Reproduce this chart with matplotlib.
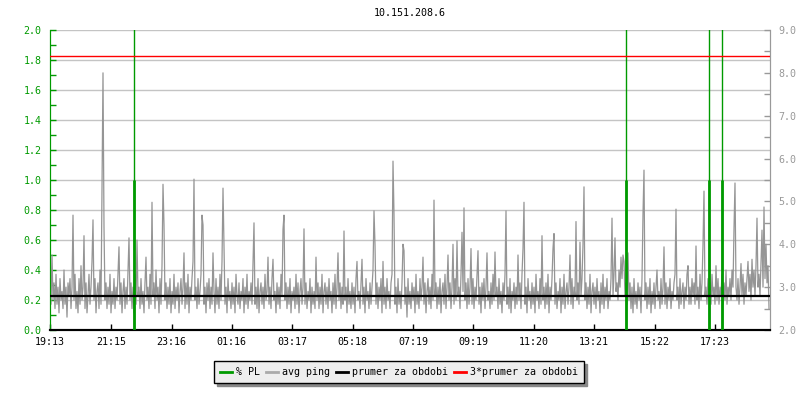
import numpy as np
import matplotlib
matplotlib.use("Agg")
import matplotlib.pyplot as plt
from matplotlib.lines import Line2D
from matplotlib.ticker import MultipleLocator, FormatStrFormatter

plt.rcParams['font.family'] = ['DejaVu Sans Mono']
plt.rcParams['font.size'] = 7.2

title = "10.151.208.6"
start = "19:13"
tick_labels = ["19:13", "21:15", "23:16", "01:16", "03:17", "05:18",
               "07:19", "09:19", "11:20", "13:21", "15:22", "17:23"]

# avg ping [ms], one sample every 2 minutes from 19:13
step_min = 2
avg_ping = [
    2.9, 2.6, 3.75, 2.7, 3.1, 2.5, 3.3, 2.6, 3.0, 2.4, 3.2, 2.7, 2.9, 2.5, 3.4, 2.6, 3.0, 2.3, 3.1, 2.8,
    3.2, 2.5, 3.0, 4.68, 2.7, 3.3, 2.5, 2.9, 2.4, 3.2, 2.6, 3.5, 2.7, 3.0, 4.2, 2.5, 3.1, 2.4, 2.8, 3.3,
    2.6, 3.0, 3.6, 4.57, 2.7, 3.2, 2.4, 2.9, 3.1, 2.5, 3.4, 2.6, 5.34, 8.0, 4.4, 2.7, 3.1, 2.5, 3.0, 2.6,
    3.3, 2.4, 2.9, 2.6, 3.2, 2.5, 3.0, 2.7, 3.3, 3.94, 2.6, 3.1, 2.4, 2.9, 3.2, 2.5, 3.0, 2.6, 3.4, 4.15,
    2.7, 3.1, 2.5, 3.0, 2.4, 3.3, 2.6, 4.1, 2.8, 3.0, 2.5, 3.2, 2.6, 2.9, 2.4, 3.1, 3.7, 2.7, 3.0, 2.5,
    3.3, 2.6, 4.98, 2.8, 3.1, 2.5, 3.4, 2.7, 3.0, 2.4, 3.2, 2.6, 3.5, 5.4, 4.45, 2.7, 3.1, 2.5, 3.0, 2.6,
    3.2, 2.4, 2.9, 2.6, 3.3, 2.5, 3.0, 2.7, 3.1, 2.4, 2.9, 3.2, 2.6, 3.0, 3.8, 2.5, 3.1, 2.6, 3.3, 2.4,
    3.0, 2.7, 3.2, 3.6, 5.52, 2.7, 3.0, 2.5, 3.2, 2.6, 2.9, 3.3, 4.68, 4.45, 2.6, 3.0, 2.4, 3.1, 2.7, 3.2,
    2.5, 3.0, 2.6, 3.8, 2.9, 2.4, 3.2, 2.6, 3.0, 2.5, 3.3, 2.7, 3.6, 5.31, 4.0, 2.6, 3.0, 2.4, 3.2, 2.7,
    2.9, 2.5, 3.1, 2.6, 3.0, 2.4, 3.3, 2.8, 2.6, 3.1, 2.5, 2.9, 2.7, 3.2, 2.4, 3.0, 2.6, 3.3, 2.5, 2.9,
    2.7, 3.1, 2.6, 3.6, 4.5, 2.6, 3.0, 2.5, 3.2, 2.4, 2.9, 3.1, 2.6, 3.0, 2.5, 3.3, 2.7, 2.9, 3.7, 2.6,
    3.0, 2.5, 3.2, 3.65, 2.7, 2.9, 2.4, 3.1, 2.6, 3.0, 2.5, 3.3, 2.8, 4.35, 4.68, 2.7, 3.1, 2.5, 3.0, 2.6,
    3.2, 2.4, 2.9, 2.7, 3.0, 2.5, 3.3, 2.6, 3.1, 2.4, 2.9, 3.2, 2.6, 3.0, 4.36, 2.6, 3.1, 2.5, 2.9, 2.7,
    3.2, 2.4, 3.0, 2.6, 2.9, 2.5, 3.7, 2.7, 3.1, 2.5, 3.0, 2.6, 3.3, 2.4, 2.9, 3.1, 2.6, 3.0, 2.5, 3.2,
    2.7, 2.9, 2.4, 3.1, 2.6, 3.3, 2.5, 3.0, 3.8, 2.7, 3.1, 2.5, 3.0, 2.6, 4.31, 2.7, 3.0, 2.4, 3.2, 2.6,
    2.9, 2.5, 3.1, 2.6, 3.0, 2.4, 3.2, 3.6, 2.7, 2.9, 2.5, 3.1, 3.65, 2.6, 3.0, 2.4, 3.2, 2.7, 2.9, 2.5,
    3.1, 2.6, 3.0, 3.4, 4.78, 4.0, 2.6, 3.1, 2.5, 3.0, 2.7, 3.2, 2.4, 3.6, 2.6, 3.0, 2.5, 3.2, 2.7, 2.9,
    2.5, 3.1, 3.3, 5.94, 4.7, 2.6, 3.0, 2.4, 3.2, 2.6, 2.9, 2.5, 3.1, 4.0, 3.85, 2.6, 3.0, 2.3, 3.2, 2.6,
    2.9, 2.5, 3.1, 2.7, 3.0, 2.4, 3.3, 2.6, 2.9, 2.5, 3.2, 2.7, 3.0, 3.7, 2.6, 3.1, 2.4, 2.9, 3.2, 2.6,
    3.0, 2.5, 3.3, 2.7, 5.03, 2.8, 3.1, 2.5, 3.0, 2.6, 3.2, 2.4, 2.9, 3.1, 2.6, 3.3, 2.5, 3.0, 3.75, 2.7,
    3.1, 2.5, 3.0, 4.0, 2.6, 3.2, 2.7, 4.08, 2.8, 3.0, 2.5, 3.3, 4.28, 2.9, 4.85, 2.7, 3.1, 2.5, 3.2, 2.6,
    3.0, 3.9, 2.6, 3.2, 2.5, 3.0, 2.7, 3.3, 3.85, 2.6, 3.0, 2.4, 3.1, 2.7, 3.2, 2.5, 3.0, 3.8, 2.7, 2.9,
    2.5, 3.1, 2.6, 3.3, 2.7, 3.82, 2.8, 3.0, 2.5, 3.2, 2.6, 2.9, 2.4, 3.1, 2.7, 3.3, 4.78, 2.6, 3.0, 2.5,
    3.2, 2.4, 2.9, 2.7, 3.1, 2.5, 3.0, 2.6, 3.75, 2.7, 3.1, 2.5, 3.3, 3.9, 4.98, 2.6, 3.0, 2.4, 3.2, 2.7,
    2.9, 2.5, 3.1, 2.6, 3.0, 2.4, 3.3, 2.7, 2.9, 2.5, 3.2, 2.6, 4.2, 2.7, 3.0, 2.5, 3.1, 2.6, 3.3, 2.4,
    3.0, 2.7, 3.2, 3.9, 4.25, 2.6, 3.1, 2.5, 2.9, 2.7, 3.2, 2.4, 3.0, 2.6, 3.3, 2.5, 2.9, 3.1, 2.6, 3.0,
    3.75, 2.6, 3.2, 2.5, 3.0, 2.8, 4.53, 2.7, 3.1, 2.6, 4.05, 2.8, 3.2, 4.0, 5.34, 2.7, 3.1, 2.5, 3.0, 2.6,
    3.3, 2.4, 2.9, 3.1, 2.6, 3.0, 2.5, 3.2, 2.7, 2.9, 2.4, 3.1, 2.6, 3.3, 2.5, 3.0, 2.7, 3.2, 2.5, 2.9,
    2.7, 3.2, 4.61, 2.8, 3.3, 4.15, 2.9, 3.1, 2.7, 3.4, 3.0, 3.7, 3.2, 3.75, 3.6, 2.8, 3.1, 2.6, 3.8, 2.7,
    3.1, 2.5, 3.0, 2.4, 3.2, 2.6, 2.9, 2.5, 3.1, 2.7, 3.0, 2.4, 3.2, 4.7, 5.73, 2.7, 3.1, 2.5, 3.0, 2.6,
    3.2, 2.4, 2.9, 2.6, 3.1, 2.5, 3.0, 3.4, 2.7, 2.9, 2.5, 3.2, 2.6, 3.0, 3.94, 2.6, 3.1, 2.5, 3.0, 2.7,
    3.2, 2.5, 2.9, 2.7, 3.1, 3.3, 4.82, 2.7, 3.0, 2.5, 3.2, 2.6, 2.9, 3.1, 2.5, 3.0, 2.7, 3.3, 3.5, 2.6,
    3.0, 2.6, 3.2, 2.8, 3.1, 2.6, 3.96, 2.7, 3.0, 2.5, 3.3, 2.7, 3.1, 4.0, 5.24, 2.8, 3.0, 2.6, 3.2, 2.7,
    3.1, 2.6, 3.3, 2.8, 3.0, 2.6, 3.5, 2.7, 3.2, 2.6, 3.0, 2.8, 3.3, 2.6, 3.1, 2.7, 3.4, 2.6, 3.0, 2.8,
    3.2, 2.7, 3.4, 3.0, 4.36, 5.43, 3.0, 2.7, 3.2, 2.6, 3.0, 3.55, 2.8, 3.3, 2.6, 3.1, 2.8, 3.2, 3.6, 2.9,
    3.3, 2.7, 3.65, 3.0, 3.4, 2.8, 3.5, 4.61, 3.0, 3.3, 2.8, 3.6, 4.33, 3.0, 4.87, 3.2, 4.0, 3.1, 3.5, 2.5,
]

# packet loss [%]: spikes (clipped above the axis) with 1 % shoulders
pl_times = ["22:01", "14:25", "17:11", "17:37"]
pl_peak = [100, 100, 100, 100]
pl_shoulder = [1.0, 1.0, 1.0, 1.0]

prumer = 2.797  # average ping over the period


def minutes_from_start(hhmm):
    h, m = map(int, hhmm.split(":"))
    h0, m0 = map(int, start.split(":"))
    return ((h * 60 + m) - (h0 * 60 + m0)) % 1440


GREEN = '#009a00'
GRAY = '#959595'
GRID = '#c4c4c4'

t = np.arange(len(avg_ping)) * step_min
pl_t = [minutes_from_start(s) for s in pl_times]

fig = plt.figure(figsize=(8, 4), dpi=100)
ax = fig.add_axes([50 / 800, 70 / 400, 720 / 800, 300 / 400])
ax2 = ax.twinx()

# left axis: % PL
ax.set_xlim(0, 1440)
ax.set_ylim(0, 2.0)
ax.yaxis.set_major_locator(MultipleLocator(0.2))
ax.yaxis.set_minor_locator(MultipleLocator(0.1))
ax.yaxis.set_major_formatter(FormatStrFormatter('%.1f'))
ax.grid(axis='y', color=GRID, lw=1.0)
ax.set_axisbelow(True)
ax.tick_params(axis='y', which='both', direction='in', colors=GREEN, length=4, width=1, pad=6)
ax.set_xticks([minutes_from_start(s) for s in tick_labels])
ax.set_xticklabels(tick_labels)
ax.tick_params(axis='x', direction='in', length=4, width=1, pad=5, colors='black')

# right axis: ping
ax2.set_ylim(2.0, 9.0)
ax2.yaxis.set_major_locator(MultipleLocator(1.0))
ax2.yaxis.set_minor_locator(MultipleLocator(0.5))
ax2.yaxis.set_major_formatter(FormatStrFormatter('%.1f'))
ax2.tick_params(axis='y', which='both', direction='in', colors='#999999', length=4, width=1, pad=6)

for a in (ax, ax2):
    a.spines['left'].set_color(GREEN)
    a.spines['right'].set_color('#999999')
    a.spines['top'].set_visible(False)
    a.spines['bottom'].set_color('black')
    a.spines['bottom'].set_linewidth(1.5)

ax2.plot(t, avg_ping, color=GRAY, lw=0.9, zorder=2)
ax2.vlines(pl_t, 0, pl_peak, color=GREEN, lw=1.0, transform=ax.transData, zorder=3)
ax2.vlines(pl_t, 0, pl_shoulder, color=GREEN, lw=2.0, transform=ax.transData, zorder=3)
ax2.axhline(prumer, color='black', lw=1.6, zorder=4)
ax2.axhline(3 * prumer, color='red', lw=1.0, zorder=4)
ax2.set_xlim(0, 1440)

ax.set_title(title, fontsize=7.2, pad=10)

handles = [Line2D([], [], color=GREEN, lw=2),
           Line2D([], [], color='#aaaaaa', lw=2),
           Line2D([], [], color='black', lw=2),
           Line2D([], [], color='red', lw=2)]
labels = ["% PL", "avg ping", "prumer za obdobi", "3*prumer za obdobi"]
leg = fig.legend(handles, labels, loc='center', bbox_to_anchor=(0.4985, 0.07), ncol=4,
                 frameon=True, fancybox=False, shadow={'color': '#888888', 'alpha': 1},
                 handlelength=1.2, handletextpad=0.4, columnspacing=0.6,
                 borderpad=0.6, fontsize=7.2)
leg.get_frame().set_facecolor('#eeeeee')
leg.get_frame().set_edgecolor('black')
leg.get_frame().set_alpha(1)
leg.get_frame().set_linewidth(1.0)

fig.savefig('out.png', dpi=100)
